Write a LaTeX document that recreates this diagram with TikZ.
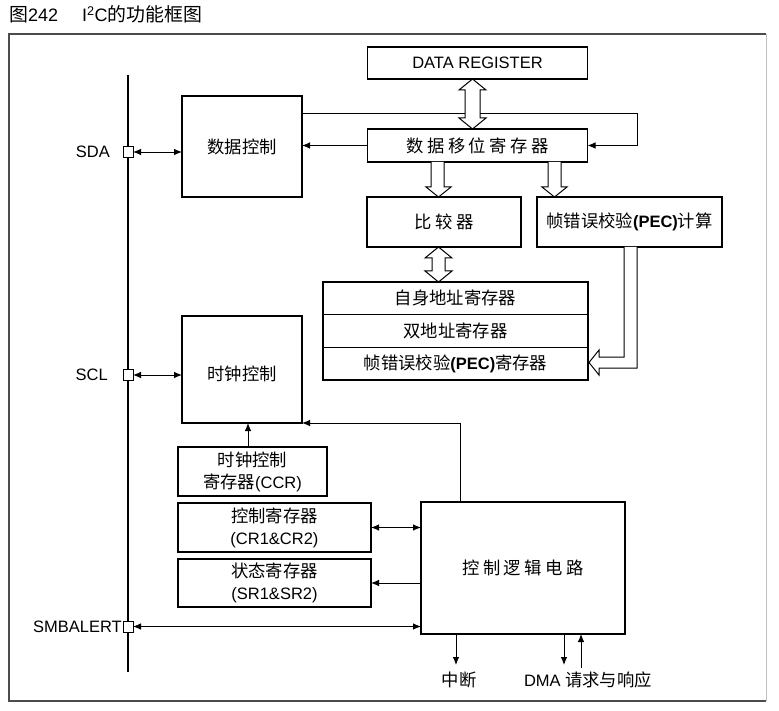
\documentclass[tikz,border=0pt]{standalone}
\usepackage{fontspec}
\setmainfont{Liberation Sans}
\newfontfamily\cjk[Scale=1.05]{Noto Sans CJK SC}
\usetikzlibrary{arrows.meta}

\newcommand{\zh}[1]{{\cjk #1}}
\newcommand{\chgap}{\hspace{3.5pt}}

\tikzset{
  blk/.style={draw, line width=1.1pt, inner sep=0pt, outer sep=0pt, align=center},
  port/.style={draw, fill=white, line width=0.9pt, minimum width=10pt, minimum height=11pt, inner sep=0pt, outer sep=0pt},
  pin/.style={anchor=east, inner sep=0pt},
  wire/.style={line width=0.9pt},
  fat/.style={draw=black, fill=white, line width=1pt, line join=miter},
}

\begin{document}
\begin{tikzpicture}[x=1pt, y=-1pt, >={Latex[length=8pt,width=6.5pt]},
  font=\fontsize{16.5}{22}\selectfont]

\useasboundingbox (0,0) rectangle (779,711);

% title
\node[anchor=base west, inner sep=0pt, font=\fontsize{18}{20}\selectfont] (fignum) at (9,22) {\zh{图}242};
\node[anchor=base west, inner sep=0pt, font=\fontsize{18}{20}\selectfont] (figname) at (82,22) {I\textsuperscript{2}C\zh{的功能框图}};

% frame
\draw[line width=2pt, black!70] (766,34) -- (9,34) -- (9,701) -- (766,701);
\draw[line width=1pt, black!25] (766,34) -- (766,701);

% bus
\draw[line width=2.4pt] (128,75) -- (128,672);
\node[port] (sda) at (128,152) {};
\node[port] (scl) at (128,375) {};
\node[port] (smb) at (128,626.5) {};
\node[pin] (sdal) at (110,152) {SDA};
\node[pin] (scll) at (108,375) {SCL};
\node[pin] (smbl) at (122,626.5) {SMBALERT};

% blocks
\node[blk, minimum width=220pt, minimum height=32pt] (dreg) at (477.5,63) {DATA REGISTER};
\node[blk, minimum width=220pt, minimum height=33pt] (shift) at (477.5,145.5)
  {\zh{数\chgap 据\chgap 移\chgap 位\chgap 寄\chgap 存\chgap 器}};
\node[blk, minimum width=120pt, minimum height=101pt] (dctl) at (242,146.5) {\zh{数据控制}};
\node[blk, minimum width=154pt, minimum height=50pt] (cmp) at (444,222) {\zh{比\chgap 较\chgap 器}};
\node[blk, minimum width=185pt, minimum height=50pt] (pecc) at (629.5,222)
  {\zh{帧错误校验}\textbf{(PEC)}\zh{计算}};
\node[blk, minimum width=265pt, minimum height=32.67pt] (own) at (455.5,298.33) {\zh{自身地址寄存器}};
\node[blk, minimum width=265pt, minimum height=32.67pt] (dual) at (455.5,331) {\zh{双地址寄存器}};
\node[blk, minimum width=265pt, minimum height=32.67pt] (pecr) at (455.5,363.67)
  {\zh{帧错误校验}\textbf{(PEC)}\zh{寄存器}};
\node[blk, minimum width=120pt, minimum height=107pt, text height=26pt, text depth=4pt] (clk) at (242,369.5) {\zh{时钟控制}};
\node[blk, minimum width=149pt, minimum height=49pt] (ccr) at (252.5,471.5) {\zh{时钟控制}\\\zh{寄存器}(CCR)};
\node[blk, minimum width=193pt, minimum height=49pt] (cr) at (274.5,527.5) {\zh{控制寄存器}\\(CR1\&CR2)};
\node[blk, minimum width=193pt, minimum height=48pt] (sr) at (274.5,583) {\zh{状态寄存器}\\(SR1\&SR2)};
\node[blk, minimum width=204pt, minimum height=132pt] (logic) at (523,568)
  {\zh{控\chgap 制\chgap 逻\chgap 辑\chgap 电\chgap 路}};

% thin connectors
\coordinate (loop) at (637,113);
\draw[wire, ->] (dctl.east |- loop) -- (loop) |- (shift.east);
\draw[wire, ->] (shift.west) -- (shift.west -| dctl.east);
\draw[wire, <->] (sda.east) -- (sda.east -| dctl.west);
\draw[wire, <->] (scl.east) -- (scl.east -| clk.west);
\draw[wire, <->] (smb.east) -- (smb.east -| logic.west);
\draw[wire, ->] ([xshift=-4.5pt]ccr.north) -- ([xshift=-4.5pt]ccr.north |- clk.south);
\coordinate (tap) at (460,0);
\draw[wire, ->] (logic.north -| tap) |- (clk.south east);
\draw[wire, <->] (cr.east) -- (cr.east -| logic.west);
\draw[wire, ->] (sr.east -| logic.west) -- (sr.east);

% outputs
\coordinate (irq) at (456,665);
\coordinate (dmaq) at (564,665);
\coordinate (dmaa) at (581,668);
\draw[wire, ->] (logic.south -| irq) -- (irq);
\draw[wire, ->] (logic.south -| dmaq) -- (dmaq);
\draw[wire, ->] (dmaa) -- (dmaa |- logic.south);
\node (irqt) at (459,680) {\zh{中断}};
\node (dmat) at (588,680) {DMA \zh{请求与响应}};

% hollow buses
\draw[fat] (472.5,79) -- (486,90) -- (480,90) -- (480,118) -- (486,118) -- (472.5,129)
  -- (459,118) -- (465,118) -- (465,90) -- (459,90) -- cycle;
\draw[fat] (431,162) -- (431,187) -- (426,187) -- (438.5,197) -- (451,187) -- (444,187) -- (444,162);
\draw[fat] (548,162) -- (548,187) -- (542,187) -- (554.5,197) -- (567,187) -- (561,187) -- (561,162);
\draw[fat] (438.5,247) -- (452,258) -- (445,258) -- (445,271) -- (452,271) -- (438.5,282)
  -- (425,271) -- (432,271) -- (432,258) -- (425,258) -- cycle;
\draw[fat] (624,247) -- (624,357) -- (599,357) -- (599,350) -- (589,362.5) -- (599,375)
  -- (599,368) -- (637,368) -- (637,247);

\end{tikzpicture}
\end{document}
